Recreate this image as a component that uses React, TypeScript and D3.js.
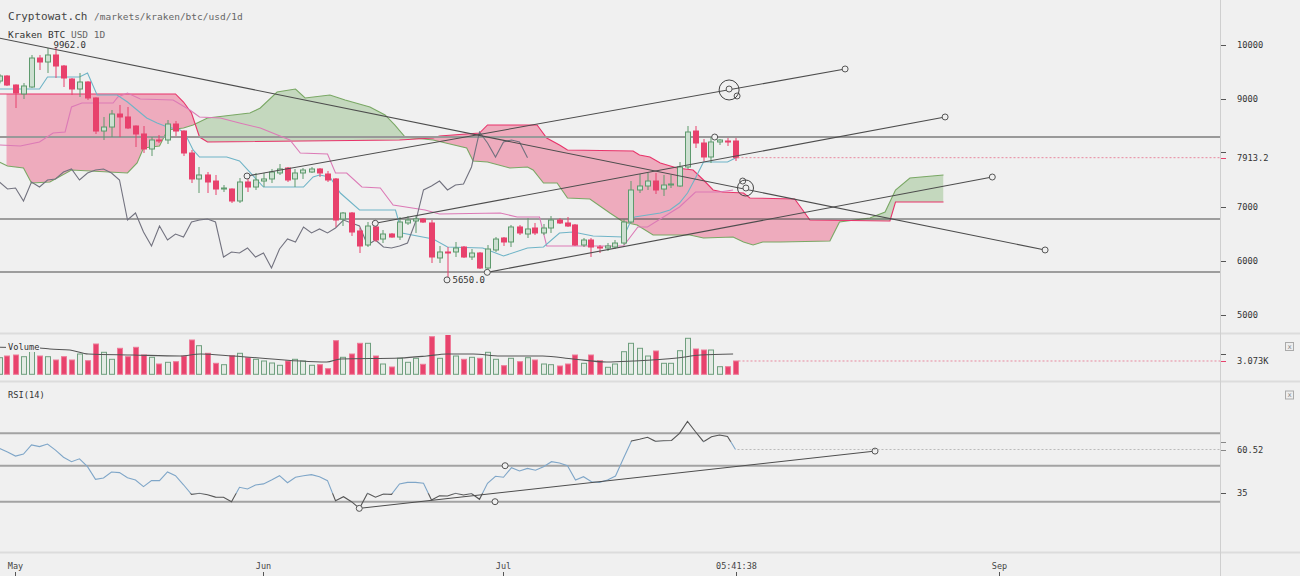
import React, { useEffect, useRef } from 'react';
import * as d3 from 'd3';

// Kraken BTC/USD daily candles, first candle is 29 Apr 2018
const firstDay = '2018-04-29';

const opens = [9333, 9426, 9259, 9093, 9222, 9759, 9685, 9815, 9611, 9370, 9185, 9315, 9019, 8407, 8481, 8722, 8667, 8500, 8352, 8074, 8241, 8241, 8537, 8407, 8000, 7519, 7593, 7481, 7333, 7333, 7111, 7463, 7370, 7481, 7519, 7630, 7722, 7519, 7630, 7648, 7704, 7611, 7519, 6778, 6889, 6556, 6296, 6630, 6407, 6500, 6444, 6704, 6741, 6778, 6704, 6056, 6167, 6167, 6259, 6074, 6148, 5870, 6204, 6426, 6352, 6630, 6500, 6611, 6519, 6611, 6759, 6704, 6667, 6296, 6389, 6259, 6241, 6259, 6333, 6722, 7315, 7389, 7481, 7333, 7407, 7389, 7741, 8407, 8185, 7926, 8204, 8222, 8222];
const highs = [9460, 9440, 9270, 9296, 9815, 9815, 9944, 9962, 9630, 9390, 9481, 9330, 9030, 8667, 8796, 8889, 8852, 8510, 8500, 8296, 8333, 8611, 8593, 8420, 8056, 7741, 7648, 7593, 7407, 7345, 7537, 7556, 7630, 7630, 7704, 7796, 7741, 7704, 7722, 7741, 7722, 7667, 7537, 6907, 6907, 6611, 6722, 6704, 6574, 6519, 6815, 6833, 6833, 6796, 6759, 6278, 6259, 6352, 6278, 6222, 6167, 6296, 6444, 6444, 6667, 6667, 6796, 6704, 6685, 6833, 6796, 6815, 6685, 6426, 6426, 6296, 6333, 6389, 6778, 7481, 7611, 7630, 7630, 7593, 7593, 7833, 8500, 8500, 8259, 8296, 8259, 8278, 8278];
const lows = [9290, 9240, 8833, 9000, 9204, 9537, 9481, 9389, 9222, 9074, 9037, 8981, 8352, 8241, 8296, 8296, 8444, 8111, 8000, 7944, 8185, 8167, 8315, 7944, 7444, 7259, 7259, 7222, 7278, 7074, 7074, 7278, 7315, 7370, 7444, 7593, 7463, 7370, 7519, 7630, 7556, 7463, 6630, 6648, 6463, 6148, 6259, 6352, 6333, 6430, 6389, 6667, 6519, 6704, 5963, 5963, 5650, 6074, 6056, 6019, 5852, 5796, 6167, 6278, 6259, 6481, 6426, 6481, 6481, 6519, 6685, 6630, 6278, 6259, 6074, 6148, 6185, 6222, 6296, 6704, 7259, 7315, 7241, 7204, 7352, 7370, 7704, 8093, 7852, 7815, 8148, 8130, 7852];
const closes = [9426, 9259, 9111, 9241, 9759, 9685, 9815, 9611, 9389, 9185, 9315, 9019, 8407, 8481, 8722, 8667, 8463, 8352, 8074, 8241, 8222, 8537, 8407, 8000, 7519, 7593, 7463, 7333, 7352, 7111, 7463, 7370, 7500, 7519, 7648, 7704, 7500, 7630, 7685, 7704, 7630, 7500, 6759, 6889, 6537, 6278, 6648, 6389, 6500, 6444, 6722, 6759, 6778, 6722, 6074, 6167, 6148, 6241, 6074, 6148, 5870, 6222, 6407, 6352, 6630, 6519, 6593, 6519, 6611, 6759, 6704, 6648, 6296, 6389, 6259, 6241, 6278, 6333, 6722, 7315, 7389, 7481, 7315, 7407, 7426, 7741, 8389, 8185, 7926, 8204, 8241, 8204, 7913.2];
const volumes = [3835, 4227, 4458, 4066, 5452, 4227, 4066, 3303, 4066, 3303, 4689, 3142, 7000, 5082, 3465, 6006, 4066, 6237, 4458, 3927, 2379, 2772, 2911, 4227, 7923, 6607, 4851, 2541, 2218, 4297, 4851, 3835, 3465, 3072, 2610, 2079, 3072, 3465, 3072, 2079, 2218, 1294, 7762, 3927, 4689, 7161, 7161, 4227, 2379, 1686, 3696, 2772, 3696, 2310, 8686, 3696, 9309, 4227, 3465, 3927, 3696, 5082, 3465, 1987, 3696, 2911, 3835, 3303, 2379, 2218, 1917, 2379, 4458, 2541, 4458, 3142, 1617, 2379, 5221, 7161, 6006, 4227, 5382, 2541, 2541, 5452, 8316, 5844, 5613, 5613, 1756, 1756, 3073];
const rsiValues = [61.2, 59.1, 56.7, 57.9, 63.2, 62.2, 63.7, 60.2, 56.0, 53.4, 55.1, 50.5, 43.1, 43.9, 47.4, 47.0, 44.0, 42.7, 38.8, 42.3, 42.3, 47.4, 45.2, 39.9, 34.3, 34.9, 34.1, 32.7, 32.6, 30.0, 38.4, 37.4, 39.8, 40.4, 42.7, 45.2, 41.1, 44.3, 45.2, 45.8, 44.6, 42.3, 30.6, 32.9, 30.0, 26.1, 34.9, 32.6, 34.5, 34.3, 40.4, 41.3, 41.3, 40.8, 31.0, 33.5, 33.3, 34.9, 33.9, 34.8, 31.4, 40.8, 44.9, 44.3, 49.9, 48.0, 49.5, 48.4, 50.5, 53.4, 52.6, 51.1, 42.7, 44.6, 41.7, 41.3, 42.7, 45.0, 55.4, 65.5, 66.5, 67.7, 65.3, 65.6, 65.8, 70.0, 77.0, 70.9, 65.1, 68.0, 69.0, 68.2, 60.52];

// ichimoku lines: [days after 1 May 2018, price]
const tenkan = [[-2, 9185], [3, 9185], [4, 9407], [8, 9407], [9, 9481], [10.2, 9074], [12.7, 9074], [14, 8944], [15.2, 8796], [16.4, 8648], [17.7, 8556], [19, 8481], [20.6, 8426], [21.4, 8296], [22.2, 8056], [23, 7926], [26.4, 7926], [28, 7852], [31, 7370], [36, 7370], [37.2, 7556], [38, 7593], [39.3, 7556], [40.6, 7259], [43, 6944], [47.5, 6944], [48.3, 6519], [52.2, 6407], [54, 6259], [58.4, 6241], [61, 6093], [64, 6241], [66, 6259], [68, 6519], [69.7, 6537], [72.2, 6463], [76, 6444], [76.8, 6704], [77.4, 6815], [80.6, 6889], [81.8, 6944], [83, 7074], [84, 7259], [85, 7537], [86, 7833], [89, 7833], [90, 7907]];
const kijun = [[-2, 8148], [0.6, 8130], [3, 8204], [4.7, 8370], [6.2, 8389], [7, 8852], [8.3, 8926], [12.2, 8926], [12.8, 9037], [14, 9111], [15.6, 9000], [19.7, 8981], [21.8, 8796], [23, 8667], [25.6, 8648], [28, 8556], [30.6, 8463], [34.3, 8241], [35.6, 8000], [39, 7981], [40, 7630], [41.4, 7630], [43.3, 7370], [45.6, 7352], [47.2, 7037], [51.2, 6944], [53, 6870], [60.6, 6889], [62.7, 6815], [65.5, 6815], [66.4, 6278], [76, 6278], [77.8, 6630], [79, 6630], [83, 7000], [85, 7278], [88, 7278], [89.7, 7315]];
const senkouA = [[-2, 7833], [-1, 7759], [1, 7722], [2, 7444], [4.3, 7463], [7, 7685], [14, 7630], [15.2, 7815], [16, 8093], [18, 8130], [19, 8426], [21, 8463], [22.2, 8519], [24, 8648], [29.3, 8741], [30.6, 8833], [32.7, 9130], [35, 9185], [36.2, 9019], [39.3, 9074], [41.2, 8981], [44.3, 8852], [46.2, 8704], [47.4, 8519], [48.7, 8296], [52.2, 8241], [56.4, 8093], [57.2, 7852], [59, 7833], [61.8, 7722], [64, 7741], [64.7, 7685], [66, 7444], [67.7, 7444], [69, 7167], [71.8, 7148], [74.3, 6889], [76, 6722], [77.7, 6667], [79.7, 6481], [84.3, 6481], [86, 6426], [89.7, 6444], [91, 6352], [92.2, 6296], [93.4, 6352], [95.6, 6352], [101.8, 6370], [103, 6722], [106.8, 6796], [108.7, 6907], [110, 7315], [111.8, 7537], [116, 7593]];
const senkouB = [[-2, 9093], [20, 9093], [21, 8944], [22, 8741], [23, 8296], [24, 8204], [48, 8241], [52.2, 8278], [53, 8315], [58, 8370], [59, 8519], [65.2, 8519], [66.4, 8278], [68, 8148], [69, 8056], [77.2, 8037], [78, 7963], [79.3, 7926], [80.6, 7815], [82.7, 7722], [84.7, 7685], [86, 7500], [87.2, 7315], [88.4, 7278], [91, 7259], [91.8, 7167], [97.4, 7148], [99.3, 6759], [109.3, 6741], [110, 7093], [116, 7093]];

// 20 day volume average: [days after 1 May, volume]
const volumeAvg = [[-2, 6237], [3, 6075], [4.3, 5844], [6.8, 5613], [9.1, 4689], [14.7, 4458], [20.6, 4227], [23.1, 4689], [27.2, 4227], [38.9, 2841], [40.6, 3534], [48.1, 3765], [51.4, 4227], [53.9, 4689], [57.2, 4689], [60.6, 4227], [65.9, 4227], [69.7, 3534], [73.9, 2841], [77.2, 3072], [82.7, 3765], [85.6, 4458], [89.7, 4689]];

// drawn tools: [days after 1 May, price]
const trendLines = [
  [[-4, 10186], [128.7, 6204]],
  [[28.94, 7574], [103.7, 9556]],
  [[44.97, 6698], [116.2, 8667]],
  [[58.97, 5790], [122.1, 7555]],
];
const greyLevel = 8296;
const darkLevels = [6778, 5796];
const anchorPoints = [[87.4, 8296], [89.2, 9185], [90.2, 9056], [90.9, 7481], [91.3, 7352]];
const rings = [[89.2, 9167], [91.25, 7352]];

// RSI tools: [days after 1 May, rsi]
const rsiTrend = [[42.97, 26.1], [107.44, 59.6]];
const rsiLevels = [70, 51.05, 30];
const rsiAnchors = [[61.2, 51.05], [59.94, 30]];

const priceTicks = [5000, 6000, 7000, 9000, 10000];
const lastPrice = 7913.2;
const lastVolume = 3073;
const lastRsi = 60.52;
const timeTicks = ['2018-05-01T00:00:00', '2018-06-01T00:00:00', '2018-07-01T00:00:00', '2018-07-30T05:41:38', '2018-09-01T00:00:00'];
const timeLabels = ['May', 'Jun', 'Jul', '05:41:38', 'Sep'];

const App = () => {
  const svgRef = useRef(null);

  useEffect(() => {
    const svg = d3.select(svgRef.current);
    svg.selectAll('*').remove();

    const W = 1300, H = 576, axisX = 1220;
    const font = '"DejaVu Sans Mono", monospace';
    const parse = d3.utcParse('%Y-%m-%d');
    const may1 = parse('2018-05-01');

    const x = d3.scaleUtc().domain([may1, parse('2018-09-01')]).range([15.5, 999.5]);
    const xDay = d => x(new Date(may1.getTime() + d * 864e5));
    const yP = d3.scaleLinear().domain([5000, 10000]).range([315, 45]);
    const yV = d3.scaleLinear().domain([0, 9310]).range([374.3, 334]);
    const yR = d3.scaleLinear().domain([30, 70]).range([501.7, 433.3]);

    const day0 = parse(firstDay);
    const candles = opens.map((o, i) => ({
      t: d3.utcDay.offset(day0, i), o, h: highs[i], l: lows[i], c: closes[i], v: volumes[i], r: rsiValues[i],
    }));
    const red = '#e8416c', green = '#5e9a6d', greenFill = '#cde0d1';

    svg.append('rect').attr('width', W).attr('height', H).attr('fill', '#f0f0f0');

    const defs = svg.append('defs');
    const clip = (id, x0, y0, y1) => defs.append('clipPath').attr('id', id)
      .append('rect').attr('x', x0).attr('y', y0).attr('width', axisX - x0).attr('height', y1 - y0);
    clip('clipPrice', 0, 0, 332);
    clip('clipCloud', x(candles[1].t) - 1, 0, 332);
    clip('clipVol', 0, 335, 381);
    clip('clipRsi', 0, 383, 552);
    clip('rsiIn', 0, yR(65), yR(35));
    const out = defs.append('clipPath').attr('id', 'rsiOut');
    out.append('rect').attr('x', 0).attr('y', 383).attr('width', axisX).attr('height', yR(65) - 383);
    out.append('rect').attr('x', 0).attr('y', yR(35)).attr('width', axisX).attr('height', 552 - yR(35));

    // ---------- price pane ----------
    const price = svg.append('g').attr('clip-path', 'url(#clipPrice)');
    const upper = d3.area().x(d => xDay(d[0])).y0(0).y1(d => yP(d[1]));
    const lower = d3.area().x(d => xDay(d[0])).y0(332).y1(d => yP(d[1]));
    defs.append('clipPath').attr('id', 'aboveA').append('path').attr('d', upper(senkouA));
    defs.append('clipPath').attr('id', 'aboveB').append('path').attr('d', upper(senkouB));
    const cloud = price.append('g').attr('clip-path', 'url(#clipCloud)');
    cloud.append('g').attr('clip-path', 'url(#aboveA)')
      .append('path').attr('d', lower(senkouB)).attr('fill', '#eeabbd');
    cloud.append('g').attr('clip-path', 'url(#aboveB)')
      .append('path').attr('d', lower(senkouA)).attr('fill', '#c4d8be');

    const line = d3.line().x(d => xDay(d[0])).y(d => yP(d[1]));
    const drawLine = (pts, color) => price.append('path').attr('d', line(pts))
      .attr('fill', 'none').attr('stroke', color).attr('stroke-width', 1.1);
    drawLine(senkouA, '#7aa865');
    drawLine(senkouB, '#e8336a');

    // horizontal levels
    price.append('line').attr('x1', 0).attr('x2', axisX).attr('y1', yP(greyLevel)).attr('y2', yP(greyLevel))
      .attr('stroke', '#999').attr('stroke-width', 2);
    darkLevels.forEach(p => price.append('line').attr('x1', 0).attr('x2', axisX)
      .attr('y1', yP(p)).attr('y2', yP(p)).attr('stroke', '#4a4a4a').attr('stroke-width', 1.2));

    drawLine(kijun, '#dc7ab6');
    drawLine(tenkan, '#6fb4c7');

    // lagging span: close plotted 26 days back
    const chikou = candles.slice(26).map((c, i) => [x(candles[i].t), yP(c.c)]);
    price.append('path').attr('d', d3.line()(chikou)).attr('fill', 'none')
      .attr('stroke', '#72727f').attr('stroke-width', 1.1);

    // candles
    const cg = price.append('g');
    candles.forEach(d => {
      const up = d.c >= d.o;
      const cx = Math.round(x(d.t)) - 0.5;
      cg.append('line').attr('x1', cx + 0.5).attr('x2', cx + 0.5).attr('y1', yP(d.h)).attr('y2', yP(d.l))
        .attr('stroke', up ? green : red).attr('stroke-width', 1);
      const top = yP(Math.max(d.o, d.c)), bot = yP(Math.min(d.o, d.c));
      cg.append('rect').attr('x', cx - 2).attr('y', top).attr('width', 5).attr('height', Math.max(1, bot - top))
        .attr('fill', up ? greenFill : red).attr('stroke', up ? green : red).attr('stroke-width', 1);
    });

    // trend lines and markers
    trendLines.forEach(pts => {
      drawLine(pts, '#4d4d4d');
      pts.forEach(p => price.append('circle').attr('cx', xDay(p[0])).attr('cy', yP(p[1])).attr('r', 3)
        .attr('fill', '#f0f0f0').attr('stroke', '#555'));
    });
    anchorPoints.forEach(p => price.append('circle').attr('cx', xDay(p[0])).attr('cy', yP(p[1])).attr('r', 3)
      .attr('fill', '#f0f0f0').attr('stroke', '#555'));
    rings.forEach((p, i) => price.append('circle').attr('cx', xDay(p[0])).attr('cy', yP(p[1]))
      .attr('r', i === 0 ? 10 : 8).attr('fill', 'none').attr('stroke', '#444'));

    // high / low labels
    const hiIdx = d3.maxIndex(candles, d => d.h);
    const loIdx = d3.minIndex(candles, d => d.l);
    price.append('text').attr('x', x(candles[hiIdx].t) - 2).attr('y', yP(candles[hiIdx].h) + 1)
      .style('font-family', font).style('font-size', '9px').attr('fill', '#333')
      .text(d3.format('.1f')(candles[hiIdx].h));
    price.append('circle').attr('cx', x(candles[loIdx].t) - 0.5).attr('cy', yP(candles[loIdx].l)).attr('r', 3)
      .attr('fill', '#f0f0f0').attr('stroke', '#555');
    price.append('text').attr('x', x(candles[loIdx].t) + 5).attr('y', yP(candles[loIdx].l) + 3)
      .style('font-family', font).style('font-size', '9px').attr('fill', '#333')
      .text(d3.format('.1f')(candles[loIdx].l));

    // last price
    const lastX = x(candles[candles.length - 1].t);
    svg.append('line').attr('x1', lastX + 2).attr('x2', axisX).attr('y1', yP(lastPrice)).attr('y2', yP(lastPrice))
      .attr('stroke', '#e8889f').attr('stroke-dasharray', '2,2');

    // header
    const head = svg.append('text').attr('x', 8).attr('y', 20).style('font-family', font);
    head.append('tspan').style('font-size', '11px').attr('fill', '#444').text('Cryptowat.ch ');
    head.append('tspan').style('font-size', '9.5px').attr('fill', '#666').text('/markets/kraken/btc/usd/1d');
    const sub = svg.append('text').attr('x', 8).attr('y', 38).style('font-family', font).style('font-size', '9.5px');
    sub.append('tspan').attr('fill', '#333').text('Kraken BTC ');
    sub.append('tspan').attr('fill', '#666').text('USD 1D');

    // ---------- volume pane ----------
    const vol = svg.append('g').attr('clip-path', 'url(#clipVol)');
    candles.forEach(d => {
      const up = d.c >= d.o;
      const cx = Math.round(x(d.t)) - 0.5;
      vol.append('rect').attr('x', cx - 2).attr('y', yV(d.v)).attr('width', 5).attr('height', yV(0) - yV(d.v))
        .attr('fill', up ? '#e4ebe5' : '#e8436d').attr('stroke', up ? '#6f9f7e' : '#ee7b98').attr('stroke-width', 1);
    });
    vol.append('path')
      .attr('d', d3.line().x(d => xDay(d[0])).y(d => yV(d[1])).curve(d3.curveMonotoneX)(volumeAvg))
      .attr('fill', 'none').attr('stroke', '#555').attr('stroke-width', 1.1);
    svg.append('line').attr('x1', lastX + 3).attr('x2', axisX).attr('y1', yV(lastVolume)).attr('y2', yV(lastVolume))
      .attr('stroke', '#e8889f').attr('stroke-dasharray', '2,2');
    svg.append('rect').attr('x', 6).attr('y', 342).attr('width', 34).attr('height', 10).attr('fill', '#f0f0f0');
    svg.append('text').attr('x', 8).attr('y', 350).style('font-family', font).style('font-size', '8.7px')
      .attr('fill', '#333').text('Volume');

    // ---------- RSI pane ----------
    const rsi = svg.append('g').attr('clip-path', 'url(#clipRsi)');
    rsiLevels.forEach(v => rsi.append('line').attr('x1', 0).attr('x2', axisX).attr('y1', yR(v)).attr('y2', yR(v))
      .attr('stroke', '#a3a3a3').attr('stroke-width', 2));
    const rsiLine = d3.line().x(d => x(d.t)).y(d => yR(d.r));
    rsi.append('g').attr('clip-path', 'url(#rsiIn)').append('path').attr('d', rsiLine(candles))
      .attr('fill', 'none').attr('stroke', '#7fa6c8').attr('stroke-width', 1.1);
    rsi.append('g').attr('clip-path', 'url(#rsiOut)').append('path').attr('d', rsiLine(candles))
      .attr('fill', 'none').attr('stroke', '#555').attr('stroke-width', 1.1);
    rsi.append('path').attr('d', d3.line().x(d => xDay(d[0])).y(d => yR(d[1]))(rsiTrend))
      .attr('fill', 'none').attr('stroke', '#4d4d4d').attr('stroke-width', 1);
    rsiTrend.concat(rsiAnchors).forEach(p => rsi.append('circle').attr('cx', xDay(p[0])).attr('cy', yR(p[1]))
      .attr('r', 3).attr('fill', '#f0f0f0').attr('stroke', '#555'));
    svg.append('line').attr('x1', lastX + 2).attr('x2', axisX).attr('y1', yR(lastRsi)).attr('y2', yR(lastRsi))
      .attr('stroke', '#bbb').attr('stroke-dasharray', '2,2');
    svg.append('text').attr('x', 8).attr('y', 398).style('font-family', font).style('font-size', '8.7px')
      .attr('fill', '#333').text('RSI(14)');

    // ---------- separators & axes ----------
    [333.5, 381.5, 552.5].forEach(y => svg.append('line').attr('x1', 0).attr('x2', W).attr('y1', y).attr('y2', y)
      .attr('stroke', '#dcdcdc').attr('stroke-width', 2));
    svg.append('line').attr('x1', axisX + 0.5).attr('x2', axisX + 0.5).attr('y1', 0).attr('y2', H)
      .attr('stroke', '#cfcfcf');

    const tick = (y, color) => svg.append('line').attr('x1', axisX + 1).attr('x2', axisX + 6)
      .attr('y1', Math.round(y) + 0.5).attr('y2', Math.round(y) + 0.5).attr('stroke', color);
    const label = (y, txt) => svg.append('text').attr('x', 1237).attr('y', y).attr('dy', '0.35em')
      .style('font-family', font).style('font-size', '8.7px').attr('fill', '#333').text(txt);

    priceTicks.forEach(v => { tick(yP(v), '#555'); label(yP(v), d3.format('d')(v)); });
    tick(yP(8019), '#555');
    tick(yP(lastPrice), '#e8416c');
    label(yP(lastPrice), d3.format('.1f')(lastPrice));

    tick(yV(4689), '#555');
    tick(yV(lastVolume), '#e8416c');
    label(yV(lastVolume), d3.format('.4~s')(lastVolume).replace('k', 'K'));

    tick(yR(65), '#888');
    tick(yR(lastRsi), '#888');
    label(yR(lastRsi), d3.format('.2f')(lastRsi));
    tick(yR(35), '#555');
    label(yR(35), '35');

    // close buttons
    [342.5, 391].forEach(y => {
      svg.append('rect').attr('x', 1285.5).attr('y', y).attr('width', 8).attr('height', 8)
        .attr('fill', '#eee').attr('stroke', '#aaa');
      svg.append('text').attr('x', 1289.5).attr('y', y + 4).attr('dy', '0.35em').attr('text-anchor', 'middle')
        .style('font-family', font).style('font-size', '7px').attr('fill', '#888').text('x');
    });

    // time axis
    const parseTime = d3.utcParse('%Y-%m-%dT%H:%M:%S');
    timeTicks.forEach((t, i) => {
      const tx = Math.round(x(parseTime(t))) - 0.5;
      svg.append('line').attr('x1', tx).attr('x2', tx).attr('y1', 572).attr('y2', H).attr('stroke', '#555');
      svg.append('text').attr('x', tx).attr('y', 569).attr('text-anchor', 'middle')
        .style('font-family', font).style('font-size', '8.5px').attr('fill', '#444').text(timeLabels[i]);
    });
  }, []);

  return (
    <>
      <style>{'body{margin:0;background:#f0f0f0;overflow:hidden}'}</style>
      <svg ref={svgRef} width={1300} height={576} style={{ display: 'block' }} />
    </>
  );
};

export default App;
